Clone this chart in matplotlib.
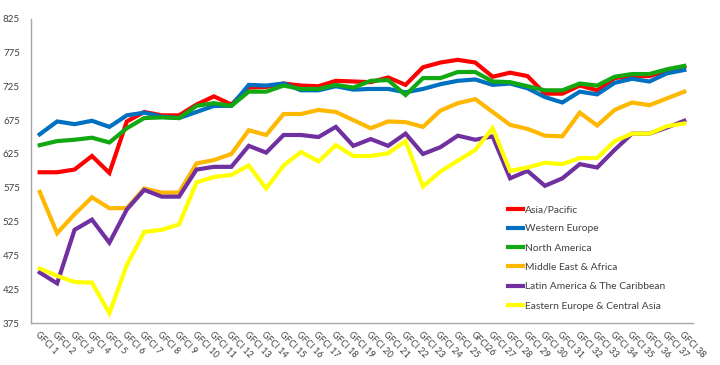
import matplotlib
matplotlib.use("Agg")
import matplotlib.pyplot as plt

categories = ["GFCI %d" % i for i in range(1, 39)]
categories[25] = "GFCI26"

asia_pacific = [598, 598, 602, 622, 597, 673, 687, 682, 682, 698, 710, 698, 723, 724, 729, 726, 725, 733, 732, 731,
                738, 727, 753, 760, 764, 760, 739, 745, 740, 714, 714, 726, 719, 737, 740, 740, 748, 754]
western_europe = [654, 673, 669, 674, 665, 682, 686, 680, 678, 687, 696, 696, 727, 726, 729, 719, 719, 725, 720, 721,
                  721, 716, 721, 728, 733, 735, 727, 729, 722, 709, 701, 717, 713, 730, 736, 732, 744, 749]
north_america = [638, 644, 646, 649, 642, 663, 678, 679, 678, 696, 700, 696, 717, 717, 726, 721, 721, 727, 723, 733,
                 734, 712, 737, 737, 746, 746, 732, 731, 725, 719, 719, 729, 726, 739, 743, 743, 750, 755]
middle_east_africa = [569, 508, 536, 561, 545, 545, 574, 568, 568, 611, 616, 625, 660, 653, 684, 684, 690, 687, 675, 663,
                      673, 672, 665, 689, 700, 706, 687, 668, 662, 652, 651, 686, 667, 690, 701, 697, 707, 717]
latin_america = [450, 434, 513, 528, 494, 543, 572, 562, 562, 602, 606, 606, 637, 627, 653, 653, 650, 665, 637, 647,
                 637, 655, 625, 635, 652, 646, 651, 589, 600, 578, 589, 610, 605, 631, 655, 655, 664, 674]
eastern_europe = [456, 445, 436, 435, 390, 461, 510, 513, 521, 583, 591, 594, 608, 574, 608, 628, 614, 638, 622, 622,
                  626, 644, 577, 599, 615, 631, 663, 600, 605, 612, 610, 619, 619, 644, 655, 655, 666, 670]

series_names = ["Asia/Pacific", "Western Europe", "North America", "Middle East & Africa",
                "Latin America & The Caribbean", "Eastern Europe & Central Asia"]
series_values = [asia_pacific, western_europe, north_america, middle_east_africa, latin_america, eastern_europe]
colors = ["#FF0000", "#0070C0", "#12A812", "#FFB800", "#7030A0", "#FFFF00"]
yticks = [375, 425, 475, 525, 575, 625, 675, 725, 775, 825]

plt.rcParams['font.family'] = ['Lato', 'DejaVu Sans']

fig = plt.figure(figsize=(7.2, 3.65), dpi=100)
ax = fig.add_axes([31/720, 1-323.3/365, 662/720, (323.3-18.5)/365])

x = list(range(len(categories)))
for name, vals, c in zip(series_names, series_values, colors):
    ax.plot(x, vals, color=c, lw=3, label=name, solid_joinstyle='miter')

ax.set_xlim(-0.5, len(categories) - 0.5)
ax.set_ylim(375, 825)
ax.set_yticks(yticks)
ax.set_yticklabels([str(v) for v in yticks], fontsize=7, color="#404040")
ax.set_xticks(x)
ax.set_xticklabels(categories, rotation=-45, ha='left', va='top', rotation_mode='anchor',
                   fontsize=6.5, color="#404040")
ax.tick_params(axis='both', length=0)
ax.tick_params(axis='y', pad=8)
ax.tick_params(axis='x', pad=5)
for s in ['top', 'right']:
    ax.spines[s].set_visible(False)
for s in ['left', 'bottom']:
    ax.spines[s].set_color("#A6A6A6")
    ax.spines[s].set_linewidth(1)

leg = ax.legend(loc='upper left', bbox_to_anchor=(508/720, 1-205/365), bbox_transform=fig.transFigure,
                frameon=False, fontsize=7.4, handlelength=1.45, handletextpad=0.2, labelspacing=0.98,
                borderpad=0, borderaxespad=0)
for t in leg.get_texts():
    t.set_color("#404040")

fig.savefig("out.png", dpi=100)
